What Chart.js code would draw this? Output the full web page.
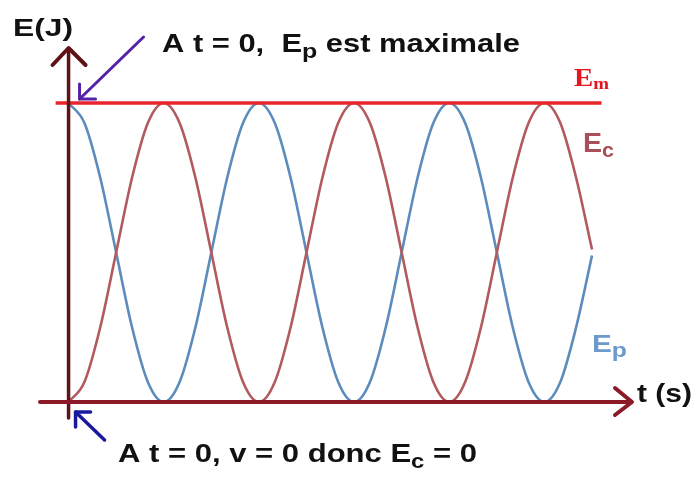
<!DOCTYPE html>
<html>
<head>
<meta charset="utf-8">
<script src="https://cdn.jsdelivr.net/npm/chart.js@4.4.1/dist/chart.umd.min.js"></script>
<style>
  html, body { margin: 0; padding: 0; background: #ffffff; }
  #wrap { width: 696px; height: 477px; }
</style>
</head>
<body>
<div id="wrap"><canvas id="c" width="696" height="477"></canvas></div>
<script>
// time, in units where Ec goes from 0 to its maximum in 1 unit
const timeValues = [0, 0.167, 0.333, 0.5, 0.667, 0.833, 1, 1.167, 1.333, 1.5, 1.667, 1.833,
  2, 2.167, 2.333, 2.5, 2.667, 2.833, 3, 3.167, 3.333, 3.5, 3.667, 3.833,
  4, 4.167, 4.333, 4.5, 4.667, 4.833, 5, 5.167, 5.333, 5.5];
// kinetic energy Ec (fraction of Em)
const ecValues = [0, 0.067, 0.25, 0.5, 0.75, 0.933, 1, 0.933, 0.75, 0.5, 0.25, 0.067,
  0, 0.067, 0.25, 0.5, 0.75, 0.933, 1, 0.933, 0.75, 0.5, 0.25, 0.067,
  0, 0.067, 0.25, 0.5, 0.75, 0.933, 1, 0.933, 0.75, 0.51];
// potential energy Ep (fraction of Em)
const epValues = [1, 0.933, 0.75, 0.5, 0.25, 0.067, 0, 0.067, 0.25, 0.5, 0.75, 0.933,
  1, 0.933, 0.75, 0.5, 0.25, 0.067, 0, 0.067, 0.25, 0.5, 0.75, 0.933,
  1, 0.933, 0.75, 0.5, 0.25, 0.067, 0, 0.067, 0.25, 0.49];
// mechanical energy Em (constant)
const emTimes = [-0.136, 5.6];
const emValues = [1, 1];

const toPts = (xs, ys) => xs.map((x, i) => ({ x: x, y: ys[i] }));

const SANS = '"Liberation Sans", Arial, sans-serif';
const SERIF = '"Liberation Serif", "Times New Roman", serif';

function drawRich(ctx, segs, x, y, width, color, family) {
  ctx.save();
  ctx.fillStyle = color;
  ctx.textBaseline = 'alphabetic';
  ctx.textAlign = 'left';
  let total = 0;
  segs.forEach(s => { ctx.font = 'bold ' + s.size + 'px ' + family; total += ctx.measureText(s.t).width; });
  const sx = width / total;
  ctx.translate(x, y);
  ctx.scale(sx, 1);
  let cx = 0;
  segs.forEach(s => {
    ctx.font = 'bold ' + s.size + 'px ' + family;
    ctx.fillText(s.t, cx, s.dy || 0);
    cx += ctx.measureText(s.t).width;
  });
  ctx.restore();
}

function polyline(ctx, pts, color, w) {
  ctx.save();
  ctx.strokeStyle = color;
  ctx.lineWidth = w;
  ctx.lineCap = 'round';
  ctx.lineJoin = 'round';
  ctx.beginPath();
  ctx.moveTo(pts[0][0], pts[0][1]);
  for (let i = 1; i < pts.length; i++) ctx.lineTo(pts[i][0], pts[i][1]);
  ctx.stroke();
  ctx.restore();
}

const decor = {
  id: 'decor',
  afterDatasetsDraw(chart) {
    const ctx = chart.ctx;
    const ca = chart.chartArea;
    const xs = chart.scales.x, ys = chart.scales.y;
    const x0 = xs.getPixelForValue(0);
    const y0 = ys.getPixelForValue(0);
    const y1 = ys.getPixelForValue(1);

    // y axis with arrow
    polyline(ctx, [[x0, ca.bottom], [x0, ca.top + 2]], '#5e1316', 3.5);
    polyline(ctx, [[x0 - 16, ca.top + 17], [x0, ca.top], [x0 + 17, ca.top + 17]], '#5e1316', 4);
    // x axis with arrow
    polyline(ctx, [[ca.left, y0], [ca.right - 2, y0]], '#8c1a26', 4);
    polyline(ctx, [[ca.right - 17, y0 - 14], [ca.right, y0], [ca.right - 17, y0 + 13]], '#8c1a26', 4);

    // purple arrow to (0, Em)
    const px = x0 + 11, py = y1 - 4;
    polyline(ctx, [[px + 64, py - 62], [px, py]], '#5422a6', 3);
    polyline(ctx, [[px, py - 15], [px, py], [px + 16, py]], '#5422a6', 3);
    // blue arrow to (0, 0)
    const bx = x0 + 7, by = y0 + 10;
    polyline(ctx, [[bx + 29, by + 28], [bx, by]], '#1a1a9e', 3.5);
    polyline(ctx, [[bx, by + 15], [bx, by], [bx + 15, by]], '#1a1a9e', 3.5);

    // texts
    drawRich(ctx, [{ t: 'E(J)', size: 23 }], 13, 36, 60, '#111111', SANS);
    drawRich(ctx, [{ t: 'A t = 0,  E', size: 26 }, { t: 'p', size: 21, dy: 6 }, { t: ' est maximale', size: 26 }],
      162, 52, 358, '#111111', SANS);
    drawRich(ctx, [{ t: 'E', size: 26 }, { t: 'm', size: 17, dy: 3 }], 574, 86, 35, '#e3161f', SERIF);
    drawRich(ctx, [{ t: 'E', size: 28 }, { t: 'c', size: 21, dy: 5 }], 583, 152, 31, '#a84f57', SANS);
    drawRich(ctx, [{ t: 'E', size: 24 }, { t: 'p', size: 20, dy: 5 }], 592, 352, 35, '#6b9acb', SANS);
    drawRich(ctx, [{ t: 't (s)', size: 26 }], 637, 402, 55, '#111111', SANS);
    drawRich(ctx, [{ t: 'A t = 0, v = 0 donc E', size: 26 }, { t: 'c', size: 20, dy: 6 }, { t: ' = 0', size: 26 }],
      118, 462, 359, '#111111', SANS);
  }
};

new Chart(document.getElementById('c'), {
  type: 'line',
  data: {
    datasets: [
      { label: 'Em', data: toPts(emTimes, emValues), borderColor: '#e8242c', borderWidth: 3.5,
        pointRadius: 0, tension: 0, clip: false },
      { label: 'Ec', data: toPts(timeValues, ecValues), borderColor: '#b25a5e', borderWidth: 2.6,
        pointRadius: 0, cubicInterpolationMode: 'monotone' },
      { label: 'Ep', data: toPts(timeValues, epValues), borderColor: '#5b8cbb', borderWidth: 2.6,
        pointRadius: 0, cubicInterpolationMode: 'monotone' }
    ]
  },
  options: {
    responsive: false,
    animation: false,
    devicePixelRatio: 1,
    layout: { padding: { left: 40, right: 64, top: 48, bottom: 59 } },
    plugins: { legend: { display: false }, tooltip: { enabled: false }, title: { display: false } },
    scales: {
      x: { type: 'linear', display: false, min: -0.3, max: 5.92 },
      y: { type: 'linear', display: false, min: -0.0535, max: 1.184 }
    }
  },
  plugins: [decor]
});
</script>
</body>
</html>
